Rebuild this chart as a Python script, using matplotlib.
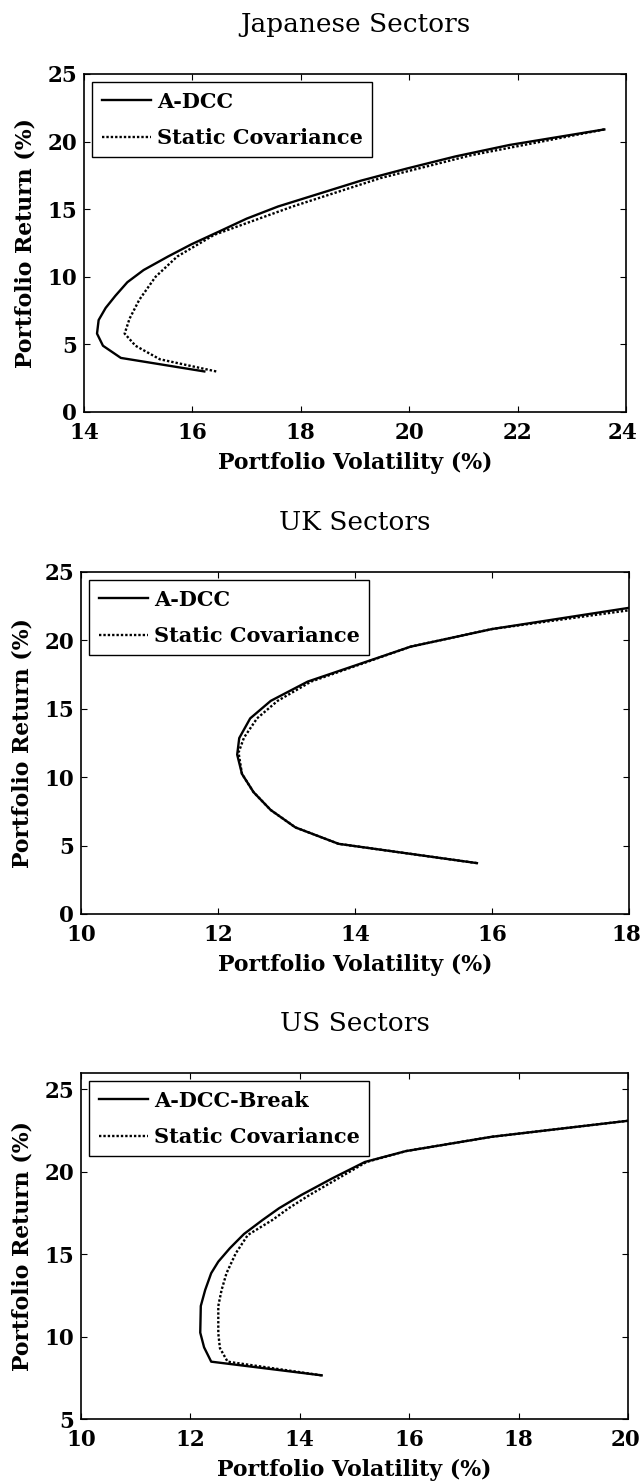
import matplotlib
matplotlib.use("Agg")
import matplotlib.pyplot as plt
import matplotlib.transforms as mtransforms

plt.rcParams['font.family'] = ['DejaVu Serif']
plt.rcParams['font.weight'] = 'bold'

# Japanese sectors
jp_adcc_vol = [16.22, 14.68, 14.35, 14.24, 14.27, 14.40, 14.58, 14.80, 15.10, 15.55,
               15.98, 16.52, 17.00, 17.58, 18.30, 19.10, 19.95, 20.85, 21.85, 23.60]
jp_adcc_ret = [3.0, 4.0, 4.9, 5.8, 6.8, 7.7, 8.6, 9.6, 10.5, 11.5,
               12.4, 13.4, 14.3, 15.2, 16.1, 17.1, 18.0, 18.9, 19.75, 20.9]
jp_static_vol = [16.44, 15.40, 14.95, 14.75, 14.84, 15.02, 15.32, 15.72, 16.40, 17.85, 19.47, 21.15, 23.60]
jp_static_ret = [3.0, 3.9, 4.9, 5.8, 6.9, 8.3, 10.0, 11.5, 13.1, 15.2, 17.3, 19.0, 20.9]

# UK sectors
uk_adcc_vol = [15.78, 13.76, 13.13, 12.77, 12.52, 12.35, 12.28, 12.31, 12.47, 12.77,
               13.31, 14.27, 14.81, 16.00, 18.00]
uk_adcc_ret = [3.72, 5.13, 6.33, 7.60, 8.90, 10.24, 11.65, 12.86, 14.30, 15.58,
               16.99, 18.62, 19.54, 20.83, 22.38]
uk_static_vol = [15.78, 13.76, 13.13, 12.77, 12.52, 12.35, 12.30, 12.38, 12.57, 12.87,
                 13.36, 14.81, 16.00, 18.00]
uk_static_ret = [3.72, 5.13, 6.33, 7.60, 8.90, 10.24, 11.80, 12.90, 14.30, 15.58,
                 16.99, 19.54, 20.83, 22.20]

# US sectors
us_break_vol = [14.40, 12.38, 12.25, 12.18, 12.19, 12.27, 12.38, 12.51, 12.72, 12.98,
                13.32, 13.62, 14.03, 14.59, 15.19, 15.94, 17.51, 20.00]
us_break_ret = [7.65, 8.48, 9.35, 10.24, 11.86, 12.83, 13.85, 14.55, 15.36, 16.23,
                17.08, 17.79, 18.60, 19.60, 20.60, 21.26, 22.13, 23.10]
us_static_vol = [14.40, 12.68, 12.54, 12.51, 12.51, 12.57, 12.66, 12.83, 13.05, 13.50,
                 13.80, 14.18, 14.70, 15.22, 15.94, 17.51, 20.00]
us_static_ret = [7.65, 8.48, 9.30, 10.20, 11.86, 12.83, 13.85, 15.06, 16.17, 17.08,
                 17.80, 18.60, 19.60, 20.60, 21.26, 22.13, 23.10]

W, H = 642, 1483
fig = plt.figure(figsize=(W / 100, H / 100), dpi=100)


def frontier(box, title, vol1, ret1, lbl1, vol2, ret2, xlim, ylim, xticks, yticks):
    l, t, r, b = box
    ax = fig.add_axes([l / W, 1 - b / H, (r - l) / W, (b - t) / H])
    ax.plot(vol1, ret1, color='black', lw=1.7, ls='-', label=lbl1)
    ax.plot(vol2, ret2, color='black', lw=1.7, ls=(0, (1, 0.85)),
            label='Static Covariance')
    ax.set_xlim(xlim)
    ax.set_ylim(ylim)
    ax.set_xticks(xticks)
    ax.set_yticks(yticks)
    ax.tick_params(direction='in', top=True, right=True, length=4, width=0.8,
                   labelsize=15.5)
    ax.tick_params(axis='x', pad=7)
    ax.tick_params(axis='y', pad=5)
    for s in ax.spines.values():
        s.set_linewidth(1.2)
    ax.set_xlabel('Portfolio Volatility (%)', fontsize=15.8, fontweight='bold', labelpad=6)
    ax.set_ylabel('Portfolio Return (%)', fontsize=15.8, fontweight='bold', labelpad=8)
    ax.set_title(title, fontsize=19, fontweight='normal', pad=30)
    leg = ax.legend(loc='upper left', fontsize=15, frameon=True, fancybox=False,
                    edgecolor='black', framealpha=1, borderaxespad=0.4,
                    handlelength=2.35, handletextpad=0.3, labelspacing=0.78,
                    borderpad=0.45)
    leg.get_frame().set_linewidth(1.0)
    fig.canvas.draw()
    for lab in ax.get_xticklabels() + ax.get_yticklabels():
        lab.set_fontweight('heavy')
    # nudge the last x label so it stays inside the figure edge
    last = ax.get_xticklabels()[-1]
    last.set_transform(last.get_transform() +
                       mtransforms.ScaledTranslation(-3 / 100, 0, fig.dpi_scale_trans))
    return ax


frontier((84, 74, 626, 412), 'Japanese Sectors',
         jp_adcc_vol, jp_adcc_ret, 'A-DCC', jp_static_vol, jp_static_ret,
         (14, 24), (0, 25), range(14, 25, 2), range(0, 26, 5))
frontier((81, 572, 629, 914), 'UK Sectors',
         uk_adcc_vol, uk_adcc_ret, 'A-DCC', uk_static_vol, uk_static_ret,
         (10, 18), (0, 25), range(10, 19, 2), range(0, 26, 5))
frontier((81, 1073, 628, 1419), 'US Sectors',
         us_break_vol, us_break_ret, 'A-DCC-Break', us_static_vol, us_static_ret,
         (10, 20), (5, 26), range(10, 21, 2), range(5, 26, 5))

fig.savefig('out.png', dpi=100)
